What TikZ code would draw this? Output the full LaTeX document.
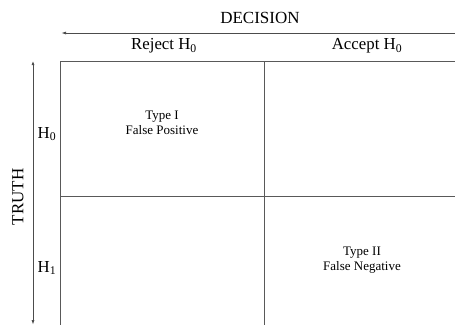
\documentclass[tikz,border=0pt]{standalone}
\usepackage{fontspec}
\setmainfont{Liberation Serif}
\usetikzlibrary{arrows.meta}
\begin{document}
\begin{tikzpicture}[x=1pt,y=-1pt,
  gridline/.style={draw=black!65,line width=0.9pt},
  axisarrow/.style={draw=black!70,line width=0.9pt,-{Latex[length=5pt,width=3pt]}},
  head/.style={font=\fontsize{17}{19}\selectfont},
  colhead/.style={font=\fontsize{16.8}{18}\selectfont},
  cell/.style={font=\fontsize{13}{15.5}\selectfont,align=center}]
\useasboundingbox (0,0) rectangle (455,325);
% axes
\coordinate (decR) at (455,33);
\coordinate (decL) at (61,33);
\draw[axisarrow] (decR) -- (decL);
\coordinate (truT) at (33,61);
\coordinate (truB) at (33,325);
\draw[axisarrow,{Latex[length=5pt,width=3pt]}-{Latex[length=4pt,width=3pt]}] (truB) -- (truT);
\node[head] (decision) at (260,18) {DECISION};
\node[head,rotate=90] (truth) at (18,197) {TRUTH};
% table
\coordinate (tl) at (60,61);
\coordinate (tr) at (455,61);
\coordinate (bl) at (60,325);
\coordinate (tm) at (264,61);
\coordinate (bm) at (264,325);
\coordinate (ml) at (60,196);
\coordinate (mr) at (455,196);
\draw[gridline] (tr) -- (tl) -- (bl);
\draw[gridline] (tm) -- (bm);
\draw[gridline] (ml) -- (mr);
% headings
\node[colhead] (rej) at (164,46) {Reject H\textsubscript{0}};
\node[colhead] (acc) at (367,46) {Accept H\textsubscript{0}};
\node[colhead] (h0) at (47,134) {H\textsubscript{0}};
\node[colhead] (h1) at (47,268) {H\textsubscript{1}};
% cells
\node[cell] (t1) at (162,123) {Type I\\False Positive};
\node[cell] (t2) at (362,260) {Type II\\False Negative};
\end{tikzpicture}
\end{document}
